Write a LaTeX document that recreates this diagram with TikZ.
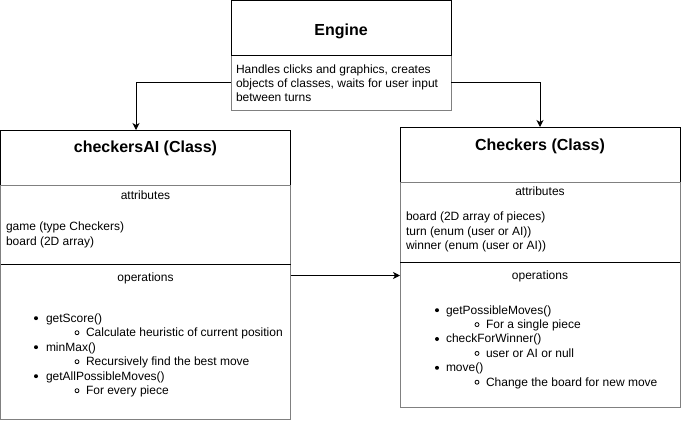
\documentclass[tikz,border=0pt]{standalone}
\usepackage{fontspec}
\setmainfont{Liberation Sans}
\usetikzlibrary{arrows.meta}
\definecolor{cellgray}{RGB}{128,128,128}
\begin{document}
\begin{tikzpicture}[x=1pt,y=-1pt,line width=1pt,
  every node/.style={font=\fontsize{12}{14.4}\selectfont,inner sep=0pt,outer sep=0pt},
  graycell/.style={draw=cellgray,fill=white,anchor=north west},
  blackcell/.style={draw=black,fill=white,anchor=north west},
  ghost/.style={anchor=north west},
  ttl/.style={font=\fontsize{16}{19}\selectfont\bfseries,anchor=base},
  hdr/.style={anchor=base},
  txt/.style={anchor=base west},
  disc/.style={fill=black},
  ring/.style={draw=black,line width=0.8pt},
  arr/.style={draw=black,line width=1pt,-{Stealth[length=7pt,width=7pt,inset=2pt]}},
  sepline/.style={draw=black,line width=1pt}]
\useasboundingbox (0,0) rectangle (681,421);

% ---------- Engine ----------
\node[graycell,minimum width=220pt,minimum height=55pt] (engdesc) at (231,55) {};
\node[blackcell,minimum width=220pt,minimum height=54.5pt] (engtitle) at (231,0.5) {};
\node[ttl] (englbl) at (341,35) {Engine};
\node[txt] (engl1) at (236,73) {Handles clicks and graphics, creates};
\node[txt] (engl2) at (236,87.4) {objects of classes, waits for user input};
\node[txt] (engl3) at (236,101.8) {between turns};

% ---------- checkersAI ----------
\node[graycell,minimum width=290pt,minimum height=289pt] (ai) at (0.5,130) {};
\node[blackcell,minimum width=290pt,minimum height=55pt] (aititle) at (0.5,130) {};
\node[graycell,minimum width=290pt,minimum height=79pt] (aiattr) at (0.5,185) {};
\draw[sepline] (aiattr.south west) -- (aiattr.south east);
\node[ghost,minimum width=290pt,minimum height=23pt] (aiopsh) at (0.5,264) {};
\node[ttl] (ailbl) at (145.5,152) {checkersAI (Class)};
\node[hdr] (aiattrlbl) at (145.5,199) {attributes};
\node[txt] (aia1) at (6,230.7) {game (type Checkers)};
\node[txt] (aia2) at (6,245) {board (2D array)};
\node[hdr] (aiopslbl) at (145.5,281) {operations};
\foreach \yy/\tt in {322/getScore(),351/minMax(),380/getAllPossibleMoves()}{
  \fill[disc] (36,\yy-3.8) circle[radius=2pt];
  \node[txt] at (46,\yy) {\tt};
}
\foreach \yy/\tt in {336.5/Calculate heuristic of current position,365.5/Recursively find the best move,394.5/For every piece}{
  \draw[ring] (77,\yy-3.8) circle[radius=2pt];
  \node[txt] at (86,\yy) {\tt};
}

% ---------- Checkers ----------
\node[graycell,minimum width=280pt,minimum height=280pt] (ck) at (400,127) {};
\node[blackcell,minimum width=280pt,minimum height=55pt] (cktitle) at (400,127) {};
\node[graycell,minimum width=280pt,minimum height=80pt] (ckattr) at (400,182) {};
\draw[sepline] (ckattr.south west) -- (ckattr.south east);
\node[ghost,minimum width=280pt,minimum height=24pt] (ckopsh) at (400,262) {};
\node[ttl] (cklbl) at (540,150.7) {Checkers (Class)};
\node[hdr] (ckattrlbl) at (540,195.7) {attributes};
\node[txt] (cka1) at (406,220.7) {board (2D array of pieces)};
\node[txt] (cka2) at (406,235.1) {turn (enum (user or AI))};
\node[txt] (cka3) at (406,249.5) {winner (enum (user or AI))};
\node[hdr] (ckopslbl) at (540,279) {operations};
\foreach \yy/\tt in {314/getPossibleMoves(),342.8/checkForWinner(),371.6/move()}{
  \fill[disc] (437,\yy-3.8) circle[radius=2pt];
  \node[txt] at (446,\yy) {\tt};
}
\foreach \yy/\tt in {328.4/For a single piece,357.2/user or AI or null,386/Change the board for new move}{
  \draw[ring] (477,\yy-3.8) circle[radius=2pt];
  \node[txt] at (486,\yy) {\tt};
}

% ---------- connectors ----------
\draw[arr] (engdesc.west) -| ([xshift=135.5pt]ai.north west);
\draw[arr] (engdesc.east) -| (ck.north);
\draw[arr] (aiopsh.east) -- (aiopsh.east -| ckopsh.west);
\end{tikzpicture}
\end{document}
